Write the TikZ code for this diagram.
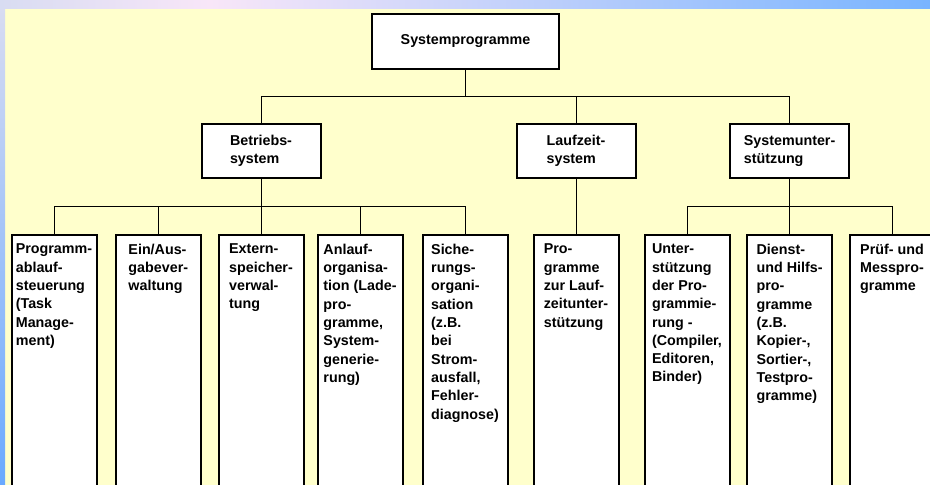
\documentclass[tikz,border=0pt]{standalone}
\usepackage{fontspec}
\setmainfont{Liberation Sans}
\definecolor{paper}{HTML}{FFFFCC}
\definecolor{lav}{HTML}{D8DCF2}
\definecolor{rose}{HTML}{F8E6F8}
\definecolor{skyA}{HTML}{78B4FF}
\definecolor{skyB}{HTML}{6AAAFF}
\begin{document}
\begin{tikzpicture}[x=1pt,y=-1pt,
  box/.style={draw=black, line width=2pt, fill=white, inner sep=0pt},
  lbl/.style={font=\fontsize{14.3}{18.3}\selectfont\bfseries, align=left, inner sep=0pt},
  head/.style={box, lbl, minimum width=119pt, minimum height=54pt},
  leaf/.style={box, minimum width=85pt, minimum height=300pt, anchor=north},
  leaftext/.style={lbl, anchor=north},
  link/.style={draw=black, line width=1pt},
]
\useasboundingbox (0,0) rectangle (930,485);
\clip (0,0) rectangle (930,485);

% page background with the shaded frame along the top and left
\fill[paper] (0,0) rectangle (930,485);
\shade[left color=lav, right color=rose] (0,0) rectangle (210,8);
\shade[left color=rose, right color=skyA] (210,0) rectangle (930,8);
\shade[top color=lav, bottom color=skyB] (0,8) rectangle (5,485);

% root and second level
\node[box, lbl, minimum width=187pt, minimum height=55pt] (root) at (465.5,41) {Systemprogramme};
\node[head] (bs) at (261,151) {Betriebs-\\system};
\node[head] (lz) at (576,151) {Laufzeit-\\system};
\node[head] (su) at (789.6,151) {Systemunter-\\stützung};

% leaf boxes (running off the bottom edge)
\node[leaf] (p1) at (54,234.3) {};
\node[leaf] (p2) at (158.3,234.3) {};
\node[leaf] (p3) at (261,234.3) {};
\node[leaf] (p4) at (360,234.3) {};
\node[leaf] (p5) at (465,234.3) {};
\node[leaf] (p6) at (576,234.3) {};
\node[leaf] (p7) at (687,234.3) {};
\node[leaf] (p8) at (789.6,234.3) {};
\node[leaf] (p9) at (892,234.3) {};

\node[leaftext] (t1) at ([yshift=-9.5pt]p1.north) {Programm-\\ablauf-\\steuerung\\(Task\\Manage-\\ment)};
\node[leaftext] (t2) at ([yshift=-9.5pt]p2.north) {Ein/Aus-\\gabever-\\waltung};
\node[leaftext] (t3) at ([yshift=-9.5pt]p3.north) {Extern-\\speicher-\\verwal-\\tung};
\node[leaftext] (t4) at ([yshift=-9.5pt]p4.north) {Anlauf-\\organisa-\\tion (Lade-\\pro-\\gramme,\\System-\\generie-\\rung)};
\node[leaftext] (t5) at ([yshift=-9.5pt]p5.north) {Siche-\\rungs-\\organi-\\sation\\(z.B.\\bei\\Strom-\\ausfall,\\Fehler-\\diagnose)};
\node[leaftext] (t6) at ([yshift=-9.5pt]p6.north) {Pro-\\gramme\\zur Lauf-\\zeitunter-\\stützung};
\node[leaftext] (t7) at ([yshift=-9.5pt]p7.north) {Unter-\\stützung\\der Pro-\\grammie-\\rung -\\(Compiler,\\Editoren,\\Binder)};
\node[leaftext] (t8) at ([yshift=-9.5pt]p8.north) {Dienst-\\und Hilfs-\\pro-\\gramme\\(z.B.\\Kopier-,\\Sortier-,\\Testpro-\\gramme)};
\node[leaftext] (t9) at ([yshift=-9.5pt]p9.north) {Prüf- und\\Messpro-\\gramme};

% connectors
\coordinate (j0) at (465.5,96);
\coordinate (j1) at (261,206);
\coordinate (j3) at (789.6,206);
\draw[link] (root.south) -- (j0);
\draw[link] (j0) -| (bs.north);
\draw[link] (j0) -| (lz.north);
\draw[link] (j0) -| (su.north);
\draw[link] (bs.south) -- (j1);
\foreach \c in {p1,p2,p3,p4,p5} \draw[link] (j1) -| (\c.north);
\draw[link] (lz.south) -- (p6.north);
\draw[link] (su.south) -- (j3);
\foreach \c in {p7,p8,p9} \draw[link] (j3) -| (\c.north);
\end{tikzpicture}
\end{document}
